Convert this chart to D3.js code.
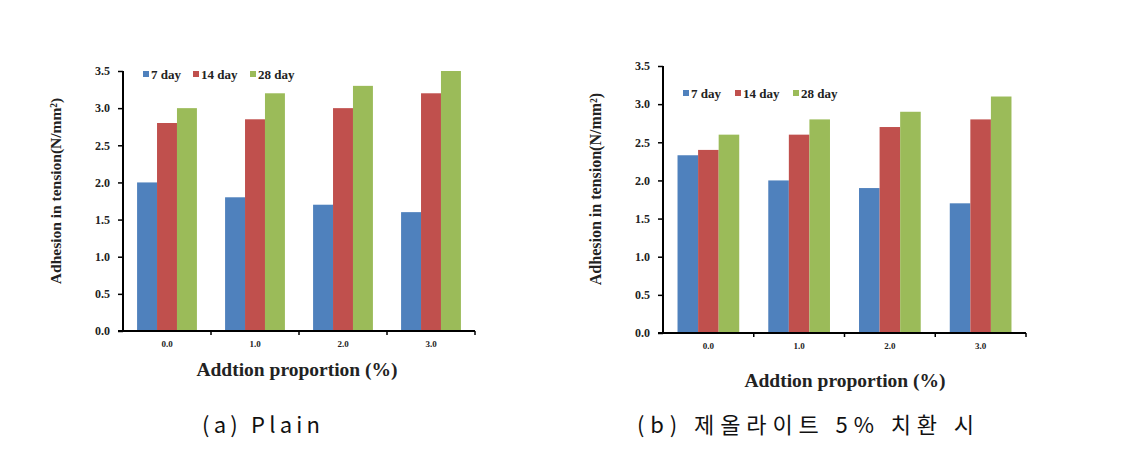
<!DOCTYPE html>
<html><head><meta charset="utf-8">
<script src="https://cdn.jsdelivr.net/npm/d3@7"></script>
<style>
body{margin:0;background:#fff;}
svg{display:block;}
</style></head>
<body>
<svg id="c" width="1131" height="450"></svg>
<script>
const categories = ["0.0","1.0","2.0","3.0"];
const seriesNames = ["7 day","14 day","28 day"];
const colors = ["#4F81BD","#C0504D","#9BBB59"];
const yTicks = [0,0.5,1.0,1.5,2.0,2.5,3.0,3.5];
const plainDay7 = [2.0,1.8,1.7,1.6];
const plainDay14 = [2.8,2.85,3.0,3.2];
const plainDay28 = [3.0,3.2,3.3,3.5];
const zeoDay7 = [2.33,2.0,1.9,1.7];
const zeoDay14 = [2.4,2.6,2.7,2.8];
const zeoDay28 = [2.6,2.8,2.9,3.1];
const captionA = "(a) Plain";
const captionB = "(b) 제올라이트 5% 치환 시";
const yTitle = "Adhesion in tension(N/mm²)";
const xTitle = "Addtion proportion (%)";

const svg = d3.select("#c");
const serif = "'Liberation Serif','Times New Roman',serif";

function drawChart(cfg){
  const g = svg.append("g");
  const x0 = d3.scaleBand().domain(categories).range([cfg.left,cfg.right]).padding(0);
  const bw = x0.bandwidth();
  const x1 = d3.scaleBand().domain(seriesNames).range([bw*0.16,bw*0.84]).padding(0);
  const y = d3.scaleLinear().domain([0,3.5]).range([cfg.bottom,cfg.top]);
  const data = categories.map((c,i)=>({cat:c, vals:cfg.series.map((s,k)=>({name:seriesNames[k],v:s[i],color:colors[k]}))}));
  const grp = g.selectAll("g.grp").data(data).join("g").attr("transform",d=>`translate(${x0(d.cat)},0)`);
  grp.selectAll("rect").data(d=>d.vals).join("rect")
    .attr("x",d=>x1(d.name)).attr("width",x1.bandwidth())
    .attr("y",d=>y(d.v)).attr("height",d=>y(0)-y(d.v)).attr("fill",d=>d.color);

  const ya = g.append("g").attr("transform",`translate(${cfg.left},0)`)
    .call(d3.axisLeft(y).tickValues(yTicks).tickFormat(d3.format(".1f")).tickSize(5).tickPadding(8));
  ya.select(".domain").attr("stroke","#000").attr("stroke-width",2).attr("d",`M0,${cfg.bottom}V${cfg.top}`);
  ya.selectAll(".tick line").attr("stroke","#000").attr("stroke-width",1.5);
  ya.selectAll("text").attr("font-family",serif).attr("font-weight","bold").attr("font-size",12).attr("fill","#222");

  const xa = g.append("g").attr("transform",`translate(0,${cfg.bottom})`)
    .call(d3.axisBottom(x0).tickSize(0).tickPadding(10));
  xa.select(".domain").attr("stroke","#000").attr("stroke-width",2).attr("d",`M${cfg.left-5},0H${cfg.right}`);
  xa.selectAll("text").attr("font-family",serif).attr("font-weight","bold").attr("font-size",9).attr("fill","#222");
  g.selectAll("line.bt").data(categories).join("line")
    .attr("x1",d=>x0(d)+bw).attr("x2",d=>x0(d)+bw)
    .attr("y1",cfg.bottom).attr("y2",cfg.bottom+4).attr("stroke","#000").attr("stroke-width",1.5);

  const lg = g.append("g").selectAll("g").data(seriesNames).join("g")
    .attr("transform",(d,i)=>`translate(${cfg.legX[i]},${cfg.legY})`);
  lg.append("rect").attr("x",0).attr("y",-3).attr("width",6).attr("height",6).attr("fill",(d,i)=>colors[i]);
  lg.append("text").attr("x",8).attr("y",4.5).text(d=>d)
    .attr("font-family",serif).attr("font-weight","bold").attr("font-size",13).attr("fill","#222");

  g.append("text").attr("transform",`translate(${cfg.yTitleX},${cfg.yTitleY}) rotate(-90)`)
    .attr("text-anchor","middle").attr("dominant-baseline","middle").text(yTitle)
    .attr("font-family",serif).attr("font-weight","bold").attr("font-size",cfg.yTitleSize).attr("fill","#222");
  g.append("text").attr("x",cfg.xTitleX).attr("y",cfg.xTitleY)
    .attr("text-anchor","middle").attr("dominant-baseline","middle").text(xTitle)
    .attr("font-family",serif).attr("font-weight","bold").attr("font-size",19.5).attr("fill","#222");
}

drawChart({left:123,right:475,top:71,bottom:331,series:[plainDay7,plainDay14,plainDay28],
  legX:[143,193,250],legY:74,yTitleX:57,yTitleY:191,yTitleSize:15.5,xTitleX:297,xTitleY:372});
drawChart({left:663,right:1026,top:66,bottom:333,series:[zeoDay7,zeoDay14,zeoDay28],
  legX:[683,735,793],legY:93,yTitleX:597,yTitleY:189,yTitleSize:16,xTitleX:845,xTitleY:383});

const capFont = "'Noto Sans CJK KR','DejaVu Sans',sans-serif";
svg.append("text").attr("x",202).attr("y",433).text(captionA)
  .attr("font-family",capFont).attr("font-size",22).attr("fill","#111")
  .attr("textLength",118).attr("lengthAdjust","spacing");
svg.append("text").attr("x",637).attr("y",433).text(captionB)
  .attr("font-family",capFont).attr("font-size",22).attr("fill","#111")
  .attr("textLength",337).attr("lengthAdjust","spacing");
</script>
</body></html>
